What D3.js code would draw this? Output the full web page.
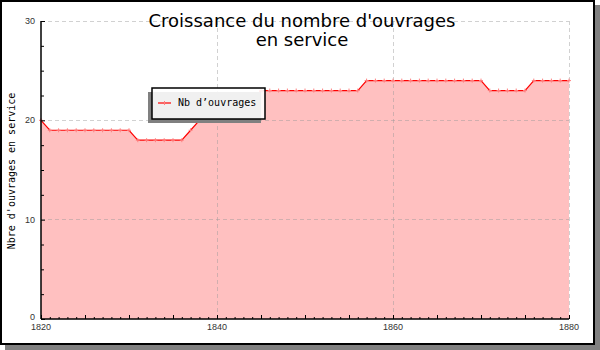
<!DOCTYPE html>
<meta charset="utf-8">
<style>
body { margin: 0; background: #fff; }
svg text { fill: #000; }
.tick-lbl { font-family: 'Liberation Sans', sans-serif; font-size: 9px; fill: #333; }
.mono { font-family: 'DejaVu Sans Mono', monospace; font-size: 10px; }
.title { font-family: 'DejaVu Sans', sans-serif; font-size: 18px; }
</style>
<body>
<div id="chart"></div>
<script src="https://cdnjs.cloudflare.com/ajax/libs/d3/7.8.5/d3.min.js"></script>
<script>
// data
var years = [1820,1821,1822,1823,1824,1825,1826,1827,1828,1829,
             1830,1831,1832,1833,1834,1835,1836,1837,1838,1839,
             1840,1841,1842,1843,1844,1845,1846,1847,1848,1849,
             1850,1851,1852,1853,1854,1855,1856,1857,1858,1859,
             1860,1861,1862,1863,1864,1865,1866,1867,1868,1869,
             1870,1871,1872,1873,1874,1875,1876,1877,1878,1879,1880];
var ouvrages = [20,19,19,19,19,19,19,19,19,19,
                19,18,18,18,18,18,18,19,20,20,
                21,21,22,22,22,23,23,23,23,23,
                23,23,23,23,23,23,23,24,24,24,
                24,24,24,24,24,24,24,24,24,24,
                24,23,23,23,23,23,24,24,24,24,24];
var xTickLabels = [1820, 1840, 1860, 1880];
var yTickLabels = [0, 10, 20, 30];
var titleLines = ["Croissance du nombre d'ouvrages", "en service"];
var yTitle = "Nbre d'ouvrages en service";
var seriesName = "Nb d\u2019ouvrages";

var W = 600, H = 350;
var plot = {left: 41, right: 569, top: 21, bottom: 319};

var svg = d3.select("#chart").append("svg")
  .attr("width", W).attr("height", H);

// frame + shadow
svg.append("rect").attr("x", 5).attr("y", 5).attr("width", 595).attr("height", 345).attr("fill", "#808080");
svg.append("rect").attr("x", 1).attr("y", 1).attr("width", 593).attr("height", 343)
  .attr("fill", "#fff").attr("stroke", "#000").attr("stroke-width", 2);

var x = d3.scaleLinear().domain([1820, 1880]).range([plot.left, plot.right]);
var y = d3.scaleLinear().domain([0, 30]).range([plot.bottom, plot.top]);

var data = years.map(function(d, i) { return {year: d, v: ouvrages[i]}; });

// area
var area = d3.area().x(function(d) { return x(d.year); }).y0(y(0)).y1(function(d) { return y(d.v); });
svg.append("path").datum(data).attr("d", area).attr("fill", "#ffc0c0");

// grid
var grid = svg.append("g").attr("stroke", "#999").attr("stroke-opacity", 0.45)
  .attr("stroke-dasharray", "4,3").attr("shape-rendering", "crispEdges");
grid.selectAll("line.v").data(xTickLabels.slice(1)).enter().append("line")
  .attr("x1", function(d) { return x(d); }).attr("x2", function(d) { return x(d); })
  .attr("y1", plot.top).attr("y2", plot.bottom);
grid.selectAll("line.h").data(yTickLabels.slice(1)).enter().append("line")
  .attr("y1", function(d) { return y(d); }).attr("y2", function(d) { return y(d); })
  .attr("x1", plot.left).attr("x2", plot.right);

// line + markers
var line = d3.line().x(function(d) { return x(d.year); }).y(function(d) { return y(d.v); });
svg.append("path").datum(data).attr("d", line).attr("fill", "none").attr("stroke", "#ff0000").attr("stroke-width", 1.2);

var marks = svg.append("g").attr("stroke", "#ff8080").attr("stroke-width", 1);
data.forEach(function(d) {
  var cx = x(d.year), cy = y(d.v);
  marks.append("line").attr("x1", cx - 2).attr("x2", cx + 2).attr("y1", cy).attr("y2", cy);
  marks.append("line").attr("x1", cx).attr("x2", cx).attr("y1", cy - 2).attr("y2", cy + 2);
});

// axes (ticks pointing inward)
var xAxis = d3.axisTop(x).tickValues(years).tickSize(2).tickFormat("");
svg.append("g").attr("transform", "translate(0," + plot.bottom + ")").call(xAxis)
  .call(function(g) {
    g.select(".domain").remove();
    g.selectAll(".tick line").attr("y2", function(d) { return d % 5 === 0 ? -4 : -2; }).attr("stroke", "#000");
  });
svg.append("line").attr("x1", plot.left).attr("x2", plot.right).attr("y1", plot.bottom).attr("y2", plot.bottom)
  .attr("stroke", "#000").attr("stroke-width", 1.5);

svg.selectAll("text.xl").data(xTickLabels).enter().append("text")
  .attr("class", "tick-lbl").attr("x", function(d) { return x(d); }).attr("y", plot.bottom + 11)
  .attr("text-anchor", "middle").text(function(d) { return d; });

var yAxis = d3.axisRight(y).tickValues(d3.range(0, 30.1, 2.5)).tickSize(3).tickFormat("");
svg.append("g").attr("transform", "translate(" + plot.left + ",0)").call(yAxis)
  .call(function(g) {
    g.select(".domain").remove();
    g.selectAll(".tick line").attr("x2", function(d) { return d % 10 === 0 ? 4 : 3; }).attr("stroke", "#000");
  });
svg.append("line").attr("x1", plot.left).attr("x2", plot.left).attr("y1", plot.top).attr("y2", plot.bottom)
  .attr("stroke", "#000").attr("stroke-width", 1.5);

svg.selectAll("text.yl").data(yTickLabels).enter().append("text")
  .attr("class", "tick-lbl").attr("x", plot.left - 6)
  .attr("y", function(d) { return d === 0 ? y(d) + 1 : y(d) + 3; })
  .attr("text-anchor", "end").text(function(d) { return d; });

// titles
svg.selectAll("text.title").data(titleLines).enter().append("text")
  .attr("class", "title").attr("x", 302).attr("y", function(d, i) { return 27 + i * 19; })
  .attr("text-anchor", "middle").text(function(d) { return d; });

svg.append("text").attr("class", "mono")
  .attr("transform", "translate(15," + 171 + ") rotate(-90)")
  .attr("text-anchor", "middle").text(yTitle);

// legend
var lg = svg.append("g").attr("transform", "translate(152,88)");
lg.append("rect").attr("x", -4).attr("y", 4).attr("width", 113).attr("height", 31).attr("fill", "#808080");
lg.append("rect").attr("x", 0).attr("y", 0).attr("width", 113).attr("height", 31)
  .attr("fill", "#fff").attr("fill-opacity", 0.88).attr("stroke", "#000").attr("stroke-width", 1.5);
lg.append("line").attr("x1", 6).attr("x2", 19).attr("y1", 15).attr("y2", 15).attr("stroke", "#ff0000").attr("stroke-width", 1.2);
lg.append("line").attr("x1", 12.5).attr("x2", 12.5).attr("y1", 13).attr("y2", 17).attr("stroke", "#ff8080");
lg.append("text").attr("class", "mono").attr("x", 26).attr("y", 18).text(seriesName);
</script>
</body>
